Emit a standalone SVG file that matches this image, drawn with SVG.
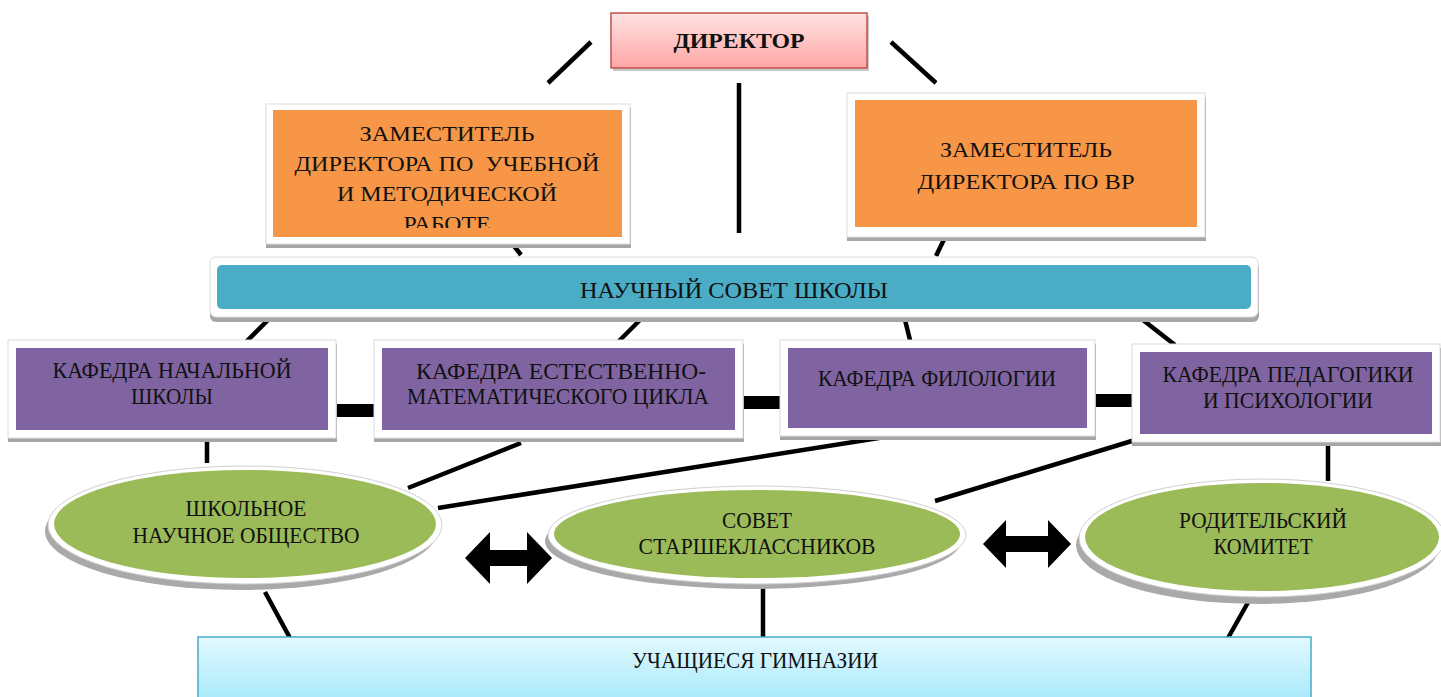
<svg xmlns="http://www.w3.org/2000/svg" width="1441" height="697" viewBox="0 0 1441 697">
<defs>
<linearGradient id="gDir" x1="0" y1="0" x2="0" y2="1"><stop offset="0" stop-color="#FFE3E3"/><stop offset="1" stop-color="#FFA6A6"/></linearGradient>
<linearGradient id="gBot" x1="0" y1="0" x2="0" y2="1"><stop offset="0" stop-color="#E2F9FF"/><stop offset="1" stop-color="#A3E8FB"/></linearGradient>
<clipPath id="clipZ"><rect x="273" y="110" width="349" height="118"/></clipPath>
<style>
.t{font-family:"Liberation Serif","Times New Roman",serif;font-size:22.5px;fill:#111;text-anchor:middle}
.o{font-size:20px}
.b{font-weight:bold;font-size:22px}
.ln{stroke:#000;stroke-width:4.5;fill:none}
.fr{fill:#fff;stroke:#dcdcdc;stroke-width:1}
.sh{fill:#a6a6a6}
.or{fill:#F79646}
.pu{fill:#8064A2}
.gr{fill:#9BBB59}
.ew{fill:#fff;stroke:#d0d0d0;stroke-width:1}
</style>
</defs>
<rect width="1441" height="697" fill="#fff"/>

<g id="connectors">
<line class="ln" x1="548" y1="83" x2="591" y2="42"/>
<line class="ln" x1="891" y1="42" x2="936" y2="83"/>
<line class="ln" x1="739" y1="83" x2="739" y2="233"/>
<line class="ln" x1="507" y1="237" x2="521" y2="255"/>
<line class="ln" x1="950" y1="227" x2="936" y2="256"/>
<line class="ln" x1="268" y1="320" x2="240" y2="348"/>
<line class="ln" x1="640" y1="320" x2="612" y2="348"/>
<line class="ln" x1="905" y1="320" x2="912" y2="348"/>
<line class="ln" x1="1143" y1="320" x2="1175" y2="345"/>
<rect x="330" y="404" width="44" height="13" fill="#000"/>
<rect x="743" y="396" width="37" height="13" fill="#000"/>
<rect x="1095" y="394" width="37" height="13" fill="#000"/>
<line class="ln" x1="207" y1="433" x2="207" y2="463"/>
<line class="ln" x1="521" y1="443" x2="408" y2="488"/>
<line class="ln" x1="885" y1="437" x2="438" y2="508"/>
<line class="ln" x1="1135" y1="440" x2="935" y2="501"/>
<line class="ln" x1="1328" y1="442" x2="1328" y2="481"/>
<line class="ln" x1="265" y1="592" x2="290" y2="638"/>
<line class="ln" x1="763" y1="588" x2="763" y2="638"/>
<line class="ln" x1="1255" y1="590" x2="1228" y2="638"/>
<polygon fill="#000" points="465,558 490,532 490,550 527,550 527,532 552,558 527,584 527,566 490,566 490,584"/>
<polygon fill="#000" points="983,544 1006,520 1006,536 1048,536 1048,520 1071,544 1048,568 1048,552 1006,552 1006,568"/>
</g>

<g id="director">
<rect x="613" y="16" width="256" height="55" fill="#c9c9c9"/>
<rect x="611" y="13" width="256" height="55" fill="url(#gDir)" stroke="#C0504D" stroke-width="1.5"/>
<text class="t b" x="739" y="48" textLength="131" lengthAdjust="spacingAndGlyphs">ДИРЕКТОР</text>
</g>

<g id="deputy-study">
<rect class="sh" x="266" y="108" width="365" height="140"/>
<rect class="fr" x="266" y="104" width="364" height="140"/>
<rect class="or" x="273" y="110" width="349" height="127"/>
<text class="t o" x="447" y="141" textLength="175" lengthAdjust="spacingAndGlyphs">ЗАМЕСТИТЕЛЬ</text>
<text class="t o" x="447" y="171" textLength="305" lengthAdjust="spacingAndGlyphs">ДИРЕКТОРА ПО&#160; УЧЕБНОЙ</text>
<text class="t o" x="447" y="201" textLength="220" lengthAdjust="spacingAndGlyphs">И МЕТОДИЧЕСКОЙ</text>
<text class="t o" x="447" y="231" textLength="87" lengthAdjust="spacingAndGlyphs" clip-path="url(#clipZ)">РАБОТЕ</text>
</g>

<g id="deputy-vr">
<rect class="sh" x="847" y="97" width="359" height="144"/>
<rect class="fr" x="847" y="93" width="358" height="144"/>
<rect class="or" x="855" y="100" width="342" height="127"/>
<text class="t o" x="1026" y="157" textLength="172" lengthAdjust="spacingAndGlyphs">ЗАМЕСТИТЕЛЬ</text>
<text class="t o" x="1026" y="189" textLength="217" lengthAdjust="spacingAndGlyphs">ДИРЕКТОРА ПО ВР</text>
</g>

<g id="council">
<rect class="sh" x="210" y="262" width="1049" height="60" rx="6"/>
<rect class="fr" x="210" y="257" width="1048" height="60" rx="6"/>
<rect x="217" y="265" width="1034" height="44" rx="5" fill="#4BACC6"/>
<text class="t" x="734" y="298" textLength="308" lengthAdjust="spacingAndGlyphs">НАУЧНЫЙ СОВЕТ ШКОЛЫ</text>
</g>

<g id="dept-primary">
<rect class="sh" x="8" y="344" width="329" height="98"/>
<rect class="fr" x="8" y="340" width="328" height="98"/>
<rect class="pu" x="16" y="348" width="312" height="82"/>
<text class="t" x="172" y="378" textLength="239" lengthAdjust="spacingAndGlyphs">КАФЕДРА НАЧАЛЬНОЙ</text>
<text class="t" x="172" y="404" textLength="82" lengthAdjust="spacingAndGlyphs">ШКОЛЫ</text>
</g>

<g id="dept-science">
<rect class="sh" x="374" y="344" width="370" height="98"/>
<rect class="fr" x="374" y="340" width="369" height="98"/>
<rect class="pu" x="382" y="348" width="353" height="82"/>
<text class="t" x="561" y="379" textLength="290" lengthAdjust="spacingAndGlyphs">КАФЕДРА ЕСТЕСТВЕННО-</text>
<text class="t" x="558" y="404" textLength="302" lengthAdjust="spacingAndGlyphs">МАТЕМАТИЧЕСКОГО ЦИКЛА</text>
</g>

<g id="dept-philology">
<rect class="sh" x="780" y="344" width="316" height="96"/>
<rect class="fr" x="780" y="340" width="315" height="96"/>
<rect class="pu" x="788" y="348" width="299" height="80"/>
<text class="t" x="937" y="386" textLength="238" lengthAdjust="spacingAndGlyphs">КАФЕДРА ФИЛОЛОГИИ</text>
</g>

<g id="dept-pedagogy">
<rect class="sh" x="1132" y="348" width="309" height="98"/>
<rect class="fr" x="1132" y="344" width="308" height="98"/>
<rect class="pu" x="1140" y="352" width="292" height="82"/>
<text class="t" x="1288" y="382" textLength="251" lengthAdjust="spacingAndGlyphs">КАФЕДРА ПЕДАГОГИКИ</text>
<text class="t" x="1288" y="408" textLength="170" lengthAdjust="spacingAndGlyphs">И ПСИХОЛОГИИ</text>
</g>

<g id="society">
<ellipse cx="241" cy="531" rx="196" ry="59" fill="#a9a9a9"/>
<ellipse class="ew" cx="245" cy="525" rx="197" ry="59"/>
<ellipse class="gr" cx="245" cy="524" rx="191" ry="54"/>
<text class="t" x="246" y="516" textLength="121" lengthAdjust="spacingAndGlyphs">ШКОЛЬНОЕ</text>
<text class="t" x="246" y="543" textLength="227" lengthAdjust="spacingAndGlyphs">НАУЧНОЕ ОБЩЕСТВО</text>
</g>

<g id="senior-council">
<ellipse cx="753" cy="541" rx="208" ry="48" fill="#a9a9a9"/>
<ellipse class="ew" cx="757" cy="535" rx="209" ry="49"/>
<ellipse class="gr" cx="757" cy="534" rx="203" ry="44"/>
<text class="t" x="757" y="528" textLength="70" lengthAdjust="spacingAndGlyphs">СОВЕТ</text>
<text class="t" x="757" y="554" textLength="237" lengthAdjust="spacingAndGlyphs">СТАРШЕКЛАССНИКОВ</text>
</g>

<g id="parents">
<ellipse cx="1258" cy="545" rx="182" ry="59" fill="#a9a9a9"/>
<ellipse class="ew" cx="1262" cy="538" rx="183" ry="59"/>
<ellipse class="gr" cx="1262" cy="537" rx="177" ry="54"/>
<text class="t" x="1263" y="528" textLength="168" lengthAdjust="spacingAndGlyphs">РОДИТЕЛЬСКИЙ</text>
<text class="t" x="1263" y="554" textLength="99" lengthAdjust="spacingAndGlyphs">КОМИТЕТ</text>
</g>

<g id="students">
<rect x="198" y="637" width="1113" height="70" fill="url(#gBot)" stroke="#4BACC6" stroke-width="1.5"/>
<text class="t" x="755" y="668" textLength="246" lengthAdjust="spacingAndGlyphs">УЧАЩИЕСЯ ГИМНАЗИИ</text>
</g>
</svg>
